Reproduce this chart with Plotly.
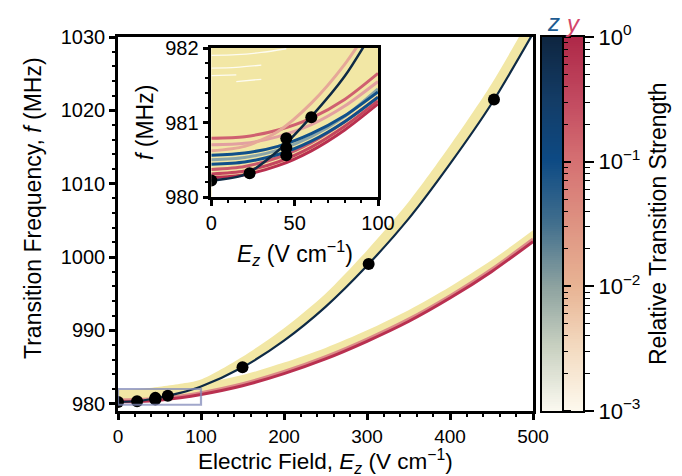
import numpy as np
import plotly.graph_objects as go

# ---------------- data ----------------
# main panel: field grid (V/cm) and transition frequencies (MHz)
E_main = [0, 25, 50, 75, 100, 150, 200, 250, 300, 350, 400, 450, 500]
f_navy = [980.22, 980.36, 980.84, 981.47, 982.34, 984.96, 988.6, 993.2, 998.8, 1005.2, 1012.7, 1020.9, 1030.5]
f_upper_band_top = [981.9, 982.0, 982.3, 982.7, 983.3, 986.4, 990.3, 995.0, 1000.9, 1007.5, 1015.2, 1023.6, 1033.4]
f_red = [980.25, 980.31, 980.48, 980.8, 981.25, 982.45, 984.1, 986.1, 988.5, 991.2, 994.4, 998.0, 1002.1]
f_red_pink = [980.5, 980.56, 980.73, 981.05, 981.5, 982.72, 984.38, 986.4, 988.8, 991.52, 994.72, 998.33, 1002.45]
f_lower_band_top = [981.7, 981.8, 982.0, 982.3, 982.7, 983.9, 985.6, 987.6, 990.0, 992.75, 995.95, 999.55, 1003.65]

# measured points
E_dots = [0, 23, 45, 45, 45, 60, 150, 302, 453]
f_dots = [980.22, 980.32, 980.79, 980.66, 980.56, 981.07, 984.96, 999.05, 1021.47]

# inset: field grid and individual transition lines
E_in = [0, 20, 40, 60, 80, 100]
in_navy = [980.22, 980.30, 980.62, 981.08, 981.62, 982.34]
in_red_1 = [980.26, 980.30, 980.42, 980.62, 980.90, 981.25]
in_red_2 = [980.31, 980.35, 980.47, 980.67, 980.95, 981.29]
in_red_3 = [980.37, 980.41, 980.53, 980.73, 981.01, 981.34]
in_blue_1 = [980.44, 980.47, 980.57, 980.75, 981.01, 981.34]
in_blue_2 = [980.56, 980.59, 980.68, 980.85, 981.09, 981.41]
in_teal = [980.50, 980.53, 980.63, 980.81, 981.08, 981.45]
in_pink_1 = [980.79, 980.81, 980.90, 981.06, 981.31, 981.66]
in_pink_2 = [980.70, 980.72, 980.81, 980.97, 981.22, 981.55]
in_salmon = [980.62, 980.68, 980.88, 981.26, 981.78, 982.45]

# faint gaps between dense low-strength lines (white streaks)
E_gap = [0, 15, 30, 45]
gap_1 = [981.90, 981.91, 981.94, 981.99]
gap_2 = [981.73, 981.74, 981.77, None]
gap_3 = [981.63, 981.64, None, None]
gap_4 = [None, 981.55, 981.58, None]

# colour-bar scale (log10 of relative strength)
cbar_ticks = [-3, -2, -1, 0]
cbar_ticktext = ["10<sup>−3</sup>", "10<sup>−2</sup>", "10<sup>−1</sup>", "10<sup>0</sup>"]
cbar_levels = list(np.linspace(-3, 0, 181))
cbar_minor = [d + np.log10(m) for d in (-3, -2, -1) for m in range(2, 10)]

# ---------------- styles ----------------
FONT = "Liberation Sans, Arial, sans-serif"
YEL = "#f2e7a5"
NAVY = "#0e2a45"
CRIM = "#b93050"
BLUE = "#10508a"

z_scale = [[0, "#fbf9f0"], [0.17, "#c9d1c1"], [0.33, "#8ea3a0"], [0.5, "#426f8d"],
           [0.67, "#0d4a84"], [0.83, "#133c66"], [1, "#0e2540"]]
y_scale = [[0, "#fdf9ee"], [0.17, "#f3dac0"], [0.33, "#e8b494"], [0.5, "#de9382"],
           [0.67, "#d57072"], [0.83, "#c24a60"], [1, "#ae2848"]]

fig = go.Figure()

def line(x, y, color, width, xa="x", ya="y", **kw):
    fig.add_trace(go.Scatter(x=x, y=y, mode="lines", xaxis=xa, yaxis=ya,
                             line=dict(color=color, width=width, shape="spline", smoothing=0.8),
                             hoverinfo="skip", showlegend=False, **kw))

# ---- main panel ----
line(E_main, f_red, "rgba(0,0,0,0)", 0)
line(E_main, f_lower_band_top, "rgba(0,0,0,0)", 0, fill="tonexty", fillcolor=YEL)
line(E_main, f_navy, "rgba(0,0,0,0)", 0)
line(E_main, f_upper_band_top, "rgba(0,0,0,0)", 0, fill="tonexty", fillcolor=YEL)
line(E_main, f_red_pink, "#dc8a88", 3)
line(E_main, f_red, CRIM, 3)
line(E_main, f_navy, NAVY, 2.2)
fig.add_trace(go.Scatter(x=E_dots, y=f_dots, mode="markers", xaxis="x", yaxis="y",
                         marker=dict(color="black", size=12), hoverinfo="skip", showlegend=False))

# ---- inset ----
line(E_in, in_red_1, CRIM, 3, "x2", "y2", fill="tozeroy", fillcolor="white")
for ydat, col, w in [(in_red_2, "#c4465e", 3), (in_red_3, "#c95a6c", 3),
                     (in_pink_2, "#e2a0a0", 3), (in_pink_1, "#cf6070", 3),
                     (in_salmon, "#e6a898", 3), (in_teal, "#8aa5a8", 3),
                     (in_blue_1, BLUE, 3), (in_blue_2, BLUE, 3)]:
    line(E_in, ydat, col, w, "x2", "y2")
for g in (gap_1, gap_2, gap_3, gap_4):
    line(E_gap, g, "rgba(255,255,255,0.85)", 1.3, "x2", "y2")
line(E_in, in_navy, NAVY, 2.5, "x2", "y2")
fig.add_trace(go.Scatter(x=E_dots, y=f_dots, mode="markers", xaxis="x2", yaxis="y2",
                         marker=dict(color="black", size=12), hoverinfo="skip", showlegend=False))

# ---- colour bars ----
fig.add_trace(go.Heatmap(x=[0], y=cbar_levels, z=[[v] for v in cbar_levels], xaxis="x3", yaxis="y4",
                         colorscale=z_scale, zmin=-3, zmax=0, showscale=False, hoverinfo="skip"))
fig.add_trace(go.Heatmap(x=[1], y=cbar_levels, z=[[v] for v in cbar_levels], xaxis="x3", yaxis="y3",
                         colorscale=y_scale, zmin=-3, zmax=0, showscale=False, hoverinfo="skip"))

common = dict(showgrid=False, zeroline=False, showline=True, linecolor="black", mirror=True,
              ticks="outside", tickcolor="black", automargin=False)
tf20 = dict(family=FONT, size=20, color="black")
tf19 = dict(family=FONT, size=19, color="black")

W_PLOT = 532.0
H_PLOT = 374.0
BOTTOM = 403.0

def px(xp):
    return (xp - 110) / W_PLOT

def py(yp):
    return (BOTTOM - yp) / H_PLOT

fig.update_layout(
    width=682, height=476,
    margin=dict(l=110, r=40, t=29, b=73, autoexpand=False),
    paper_bgcolor="white", plot_bgcolor="rgba(0,0,0,0)",
    font=dict(family=FONT, color="black"),
    xaxis=dict(domain=[0, px(525)], range=[0, 500], dtick=100, tick0=0, anchor="y",
               linewidth=2.5, ticklen=6, tickwidth=2.5, tickfont=tf19,
               minor=dict(dtick=20, ticklen=3.5, tickwidth=1.5, ticks="outside", tickcolor="black"),
               **common),
    yaxis=dict(domain=[0, 1], range=[979, 1030], dtick=10, tick0=980, anchor="x",
               linewidth=2.5, ticklen=6, tickwidth=2.5, tickfont=tf20,
               minor=dict(dtick=2, tick0=980, ticklen=3.5, tickwidth=1.5, ticks="outside", tickcolor="black"),
               **common),
    xaxis2=dict(domain=[px(203.3), px(370)], range=[0, 100], dtick=50, tick0=0,
                anchor="y2", linewidth=2.5, ticklen=6, tickwidth=2.5, tickfont=tf20,
                minor=dict(dtick=10, ticklen=3.5, tickwidth=1.5, ticks="outside", tickcolor="black"),
                **common),
    yaxis2=dict(domain=[py(189), py(40)], range=[980, 982], dtick=1, tick0=980,
                anchor="x2", linewidth=2.5, ticklen=6, tickwidth=2.5, tickfont=tf20,
                minor=dict(dtick=0.2, tick0=980, ticklen=3.5, tickwidth=1.5, ticks="outside", tickcolor="black"),
                **common),
    xaxis3=dict(domain=[px(534), px(575)], range=[-0.5, 1.5], anchor="y3",
                showgrid=False, zeroline=False, showline=True, linecolor="black", linewidth=2,
                mirror=True, ticks="", showticklabels=False, fixedrange=True, automargin=False),
    yaxis3=dict(domain=[0, 1], range=[-3, 0], anchor="x3", side="right", automargin=False,
                showgrid=False, zeroline=False, showline=True, linecolor="black", linewidth=2, mirror=True,
                tickmode="array", tickvals=cbar_ticks, ticktext=cbar_ticktext, ticks="outside",
                ticklen=9, tickwidth=2, tickcolor="black",
                tickfont=dict(family=FONT, size=22, color="black"),
                minor=dict(tickmode="array", tickvals=cbar_minor, ticks="outside", ticklen=5,
                           tickwidth=1.3, tickcolor="black")),
    yaxis4=dict(range=[-3, 0], overlaying="y3", anchor="free", position=px(555),
                side="right", showgrid=False, zeroline=False, showline=True, linecolor="black",
                linewidth=2, tickmode="array", tickvals=cbar_ticks, ticks="outside", ticklen=7,
                tickwidth=2, tickcolor="black", showticklabels=False, automargin=False,
                minor=dict(tickmode="array", tickvals=cbar_minor, ticks="outside", ticklen=4,
                           tickwidth=1.3, tickcolor="black")),
)

# inset background of dense low-strength lines, and zoom indicator
fig.add_shape(type="rect", xref="x2 domain", yref="y2 domain", x0=0, x1=1, y0=0, y1=1,
              fillcolor=YEL, line=dict(width=0), layer="below")
fig.add_shape(type="rect", xref="x", yref="y", x0=0, x1=100, y0=979.85, y1=982,
              line=dict(color="rgba(130,138,185,0.75)", width=2.2), fillcolor="rgba(0,0,0,0)")

# axis titles placed as in the reference
def title(text, x, y, angle=0, size=23, color="black"):
    fig.add_annotation(x=px(x), y=py(y), xref="paper", yref="paper", text=text, showarrow=False,
                       textangle=angle, xanchor="center", yanchor="middle",
                       font=dict(family=FONT, size=size, color=color))

title("Electric Field, <i>E<sub>z</sub></i> (V cm<sup>−1</sup>)", 317.5, 453.5, size=22.5)
title("Transition Frequency, <i>f</i> (MHz)", 25, 200, angle=-90)
title("<i>E<sub>z</sub></i> (V cm<sup>−1</sup>)", 287, 245)
title("<i>f</i> (MHz)", 137, 115, angle=-90)
title("Relative Transition Strength", 650, 216, angle=-90)
# polarisation labels above the colour bars
title("<i>z</i>", 545, 14, size=24, color="#1d5b91")
title("<i>y</i>", 565, 15, size=24, color="#d2456b")

fig.write_html("out.html")
